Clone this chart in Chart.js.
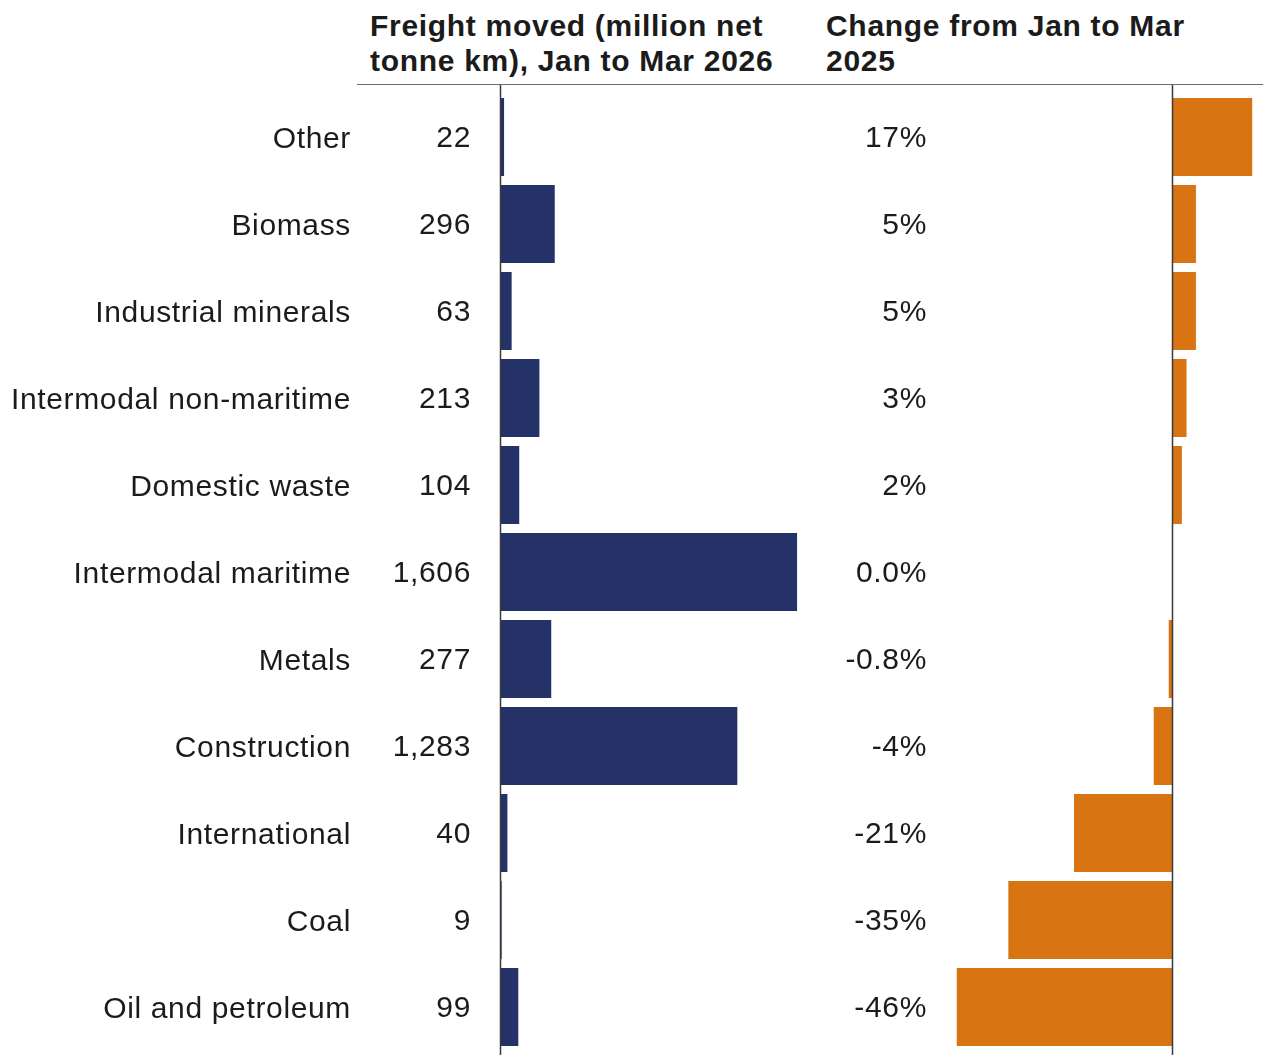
<!DOCTYPE html>
<html>
<head>
<meta charset="utf-8">
<script src="https://cdn.jsdelivr.net/npm/chart.js@4.4.1/dist/chart.umd.min.js"></script>
<style>
  html, body { margin: 0; padding: 0; background: #ffffff; }
  #wrap { position: relative; width: 1263px; height: 1055px; overflow: hidden;
          font-family: "Liberation Sans", Arial, sans-serif; color: #1b1b1b; }
  .head { position: absolute; top: 8px; font-weight: bold; font-size: 30px; line-height: 35px;
          letter-spacing: 0.7px; white-space: nowrap; }
  #rule { position: absolute; left: 357px; top: 84px; width: 906px; height: 0; border-top: 1.5px solid #6b6b6b; }
  #c1wrap { position: absolute; left: 0; top: 85px; width: 830px; height: 970px; }
  #c2wrap { position: absolute; left: 830px; top: 85px; width: 433px; height: 970px; }
</style>
</head>
<body>
<div id="wrap">
  <div class="head" style="left:370px">Freight moved (million net<br>tonne km), Jan to Mar 2026</div>
  <div class="head" style="left:826px">Change from Jan to Mar<br>2025</div>
  <div id="rule"></div>
  <div id="c1wrap"><canvas id="freight"></canvas></div>
  <div id="c2wrap"><canvas id="change"></canvas></div>
</div>
<script>
// Commodity groups, top to bottom
const categories = [
  'Other', 'Biomass', 'Industrial minerals', 'Intermodal non-maritime',
  'Domestic waste', 'Intermodal maritime', 'Metals', 'Construction',
  'International', 'Coal', 'Oil and petroleum'
];
// Freight moved, million net tonne km, Jan to Mar 2026
const freightMoved = [22, 296, 63, 213, 104, 1606, 277, 1283, 40, 9, 99];
// Percentage change from Jan to Mar 2025
const changePct = [17, 5, 5, 3, 2, 0.0, -0.8, -4, -21, -35, -46];

const FONT = '"Liberation Sans", Arial, sans-serif';
const TEXT = '#1b1b1b';
const NAVY = '#253267';
const ORANGE = '#d97412';
const SPACING = '0.65px';

const fmtFreight = v => v.toLocaleString('en-GB');
const fmtPct = v => (Math.abs(v) < 1 ? v.toFixed(1) : String(Math.round(v))) + '%';

// Slightly looser tracking for all canvas text
const tracking = {
  id: 'tracking',
  beforeDraw(chart) { chart.ctx.letterSpacing = SPACING; }
};

// Writes each bar's value in a column at a fixed x position
const valueColumn = {
  id: 'valueColumn',
  afterDatasetsDraw(chart, args, opts) {
    const { ctx } = chart;
    const y = chart.scales.y;
    const data = chart.data.datasets[0].data;
    ctx.save();
    ctx.letterSpacing = SPACING;
    ctx.font = '30px ' + FONT;
    ctx.fillStyle = TEXT;
    ctx.textAlign = 'right';
    ctx.textBaseline = 'middle';
    data.forEach((v, i) => ctx.fillText(opts.format(v), opts.x, y.getPixelForValue(i) + 2));
    ctx.restore();
  }
};

// Full-height baseline at zero
const zeroLine = {
  id: 'zeroLine',
  afterDatasetsDraw(chart) {
    const { ctx } = chart;
    const x = Math.round(chart.scales.x.getPixelForValue(0)) + 0.5;
    ctx.save();
    ctx.strokeStyle = '#3a3a3a';
    ctx.lineWidth = 1.5;
    ctx.beginPath();
    ctx.moveTo(x, 0);
    ctx.lineTo(x, chart.height);
    ctx.stroke();
    ctx.restore();
  }
};

Chart.defaults.animation = false;
Chart.defaults.font.family = FONT;
Chart.defaults.color = TEXT;

new Chart(document.getElementById('freight'), {
  type: 'bar',
  data: {
    labels: categories,
    datasets: [{
      data: freightMoved,
      backgroundColor: NAVY,
      categoryPercentage: 1,
      barPercentage: 0.897
    }]
  },
  options: {
    indexAxis: 'y',
    responsive: true,
    maintainAspectRatio: false,
    layout: { padding: { top: 8.5, bottom: 4.5, left: 0, right: 0 } },
    plugins: {
      legend: { display: false },
      tooltip: { enabled: false },
      valueColumn: { x: 471, format: fmtFreight }
    },
    scales: {
      x: { display: false, min: 0, max: 1784 },
      y: {
        grid: { display: false, drawTicks: false },
        border: { display: false },
        ticks: { font: { size: 30 }, color: TEXT, padding: 149, labelOffset: 3, autoSkip: false },
        afterFit(scale) {
          scale.width = 500;
          scale.paddingTop = 0;
          scale.paddingBottom = 0;
        }
      }
    }
  },
  plugins: [tracking, valueColumn, zeroLine]
});

new Chart(document.getElementById('change'), {
  type: 'bar',
  data: {
    labels: categories,
    datasets: [{
      data: changePct,
      backgroundColor: ORANGE,
      categoryPercentage: 1,
      barPercentage: 0.897
    }]
  },
  options: {
    indexAxis: 'y',
    responsive: true,
    maintainAspectRatio: false,
    layout: { padding: { top: 8.5, bottom: 4.5, left: 110, right: 0 } },
    plugins: {
      legend: { display: false },
      tooltip: { enabled: false },
      valueColumn: { x: 97, format: fmtPct }
    },
    scales: {
      x: { display: false, min: -49.57, max: 19.3 },
      y: { display: false }
    }
  },
  plugins: [tracking, valueColumn, zeroLine]
});
</script>
</body>
</html>
